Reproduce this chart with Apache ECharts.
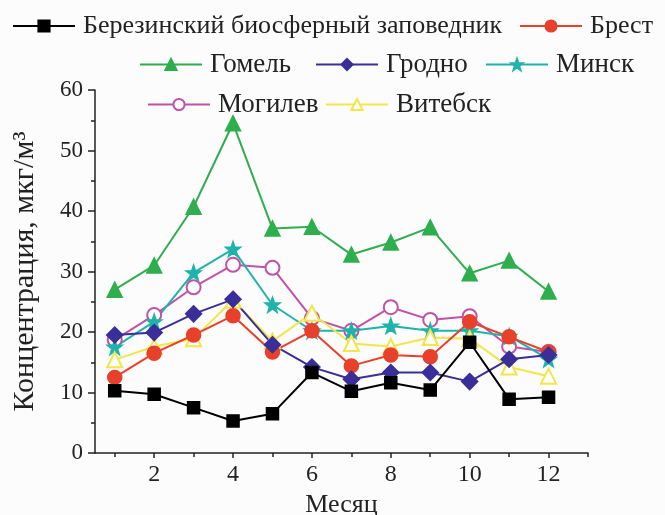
<!DOCTYPE html>
<html>
<head>
<meta charset="utf-8">
<script src="https://cdn.jsdelivr.net/npm/echarts@6/dist/echarts.min.js"></script>
<style>
  html, body { margin: 0; padding: 0; background: #fcfcfc; }
  #chart { width: 665px; height: 515px; }
</style>
</head>
<body>
<div id="chart"></div>
<script>
// months on the x axis
const months = [1, 2, 3, 4, 5, 6, 7, 8, 9, 10, 11, 12];
const monthLabels = [2, 4, 6, 8, 10, 12];
const monthMinorTicks = [1, 3, 5, 7, 9, 11, 13];

// concentrations, µg/m3
const berezinsky = [10.3, 9.7, 7.5, 5.3, 6.5, 13.3, 10.2, 11.6, 10.4, 18.3, 8.9, 9.2];
const brest = [12.5, 16.5, 19.5, 22.7, 16.7, 20.2, 14.4, 16.2, 15.9, 21.7, 19.2, 16.7];
const gomel = [27.0, 31.0, 40.7, 54.5, 37.1, 37.4, 32.8, 34.8, 37.3, 29.7, 31.8, 26.7];
const grodno = [19.5, 19.9, 23.0, 25.4, 17.9, 14.2, 12.2, 13.3, 13.3, 11.8, 15.5, 16.2];
const minsk = [17.5, 21.7, 29.8, 33.7, 24.5, 20.2, 20.2, 21.0, 20.2, 20.2, 19.3, 15.5];
const mogilev = [18.7, 22.8, 27.4, 31.1, 30.6, 22.3, 20.2, 24.1, 22.0, 22.6, 17.6, 16.7];
const vitebsk = [15.4, 17.6, 18.9, 25.3, 18.5, 23.1, 18.1, 17.6, 19.1, 18.9, 14.2, 12.7];

const serif = '"Liberation Serif", "DejaVu Serif", serif';
const ink = '#222';

const pairs = (vals) => months.map((m, i) => [m, vals[i]]);

const mkSeries = (name, vals, color, symbol, size) => ({
  name,
  type: 'line',
  data: pairs(vals),
  symbol,
  symbolSize: size,
  lineStyle: { color, width: 2 },
  itemStyle: { color, borderColor: color, borderWidth: 1.5 },
  emphasis: { disabled: true },
});

const mkLegend = (name, left, top, size) => ({
  data: [name],
  left,
  top,
  itemWidth: 62,
  itemHeight: 14,
  itemGap: 0,
  textStyle: { fontFamily: serif, fontSize: size, color: ink, padding: [0, 0, 0, 3] },
  selectedMode: false,
});

const chart = echarts.init(document.getElementById('chart'));

chart.setOption({
  backgroundColor: '#fcfcfc',
  animation: false,
  legend: [
    mkLegend('Березинский биосферный заповедник', 7, 8, 26),
    mkLegend('Брест', 514, 8, 26),
    mkLegend('Гомель', 134, 46, 27),
    mkLegend('Гродно', 310, 46, 27),
    mkLegend('Минск', 480, 46, 27),
    mkLegend('Могилев', 142, 86, 27),
    mkLegend('Витебск', 320, 86, 27),
  ],
  grid: { left: 95, right: 77, top: 90, bottom: 62, outerBoundsMode: 'none' },
  xAxis: [
    {
      type: 'value',
      min: 0.5,
      max: 13,
      name: 'Месяц',
      nameLocation: 'middle',
      nameGap: 38,
      nameTextStyle: { fontFamily: serif, fontSize: 26, color: ink },
      axisLine: { show: true, lineStyle: { color: ink, width: 1.5 } },
      axisTick: { show: true, customValues: monthLabels, length: 5, lineStyle: { color: ink, width: 1.5 } },
      axisLabel: { customValues: monthLabels, fontFamily: serif, fontSize: 24, color: ink, margin: 10 },
      splitLine: { show: false },
    },
    {
      type: 'value',
      min: 0.5,
      max: 13,
      position: 'bottom',
      axisLine: { show: false },
      axisTick: { show: true, customValues: monthMinorTicks, length: 4, lineStyle: { color: ink, width: 1.5 } },
      axisLabel: { show: false },
      splitLine: { show: false },
    },
  ],
  yAxis: {
    type: 'value',
    min: 0,
    max: 60,
    interval: 10,
    name: 'Концентрация, мкг/м³',
    nameLocation: 'middle',
    nameGap: 55,
    nameTextStyle: { fontFamily: serif, fontSize: 30, color: ink },
    axisLine: { show: true, lineStyle: { color: ink, width: 1.5 } },
    axisTick: { show: true, length: 7, lineStyle: { color: ink, width: 1.5 } },
    minorTick: { show: true, splitNumber: 2, length: 4, lineStyle: { color: ink, width: 1.5 } },
    axisLabel: { fontFamily: serif, fontSize: 23, color: ink, margin: 12 },
    splitLine: { show: false },
  },
  series: [
    mkSeries('Гомель', gomel, '#2fae4e', 'triangle', 15),
    mkSeries('Могилев', mogilev, '#c052a8', 'emptyCircle', 14),
    mkSeries('Минск', minsk, '#1fb3ab', 'path://M0,-10L2.4,-3.2L9.5,-3.1L3.8,1.2L5.9,8.1L0,4L-5.9,8.1L-3.8,1.2L-9.5,-3.1L-2.4,-3.2Z', 15),
    mkSeries('Витебск', vitebsk, '#f3e54a', 'emptyTriangle', 15),
    mkSeries('Брест', brest, '#e8402a', 'circle', 14),
    mkSeries('Гродно', grodno, '#3a2f98', 'diamond', 16),
    mkSeries('Березинский биосферный заповедник', berezinsky, '#000000', 'rect', 12),
  ],
});
</script>
</body>
</html>
